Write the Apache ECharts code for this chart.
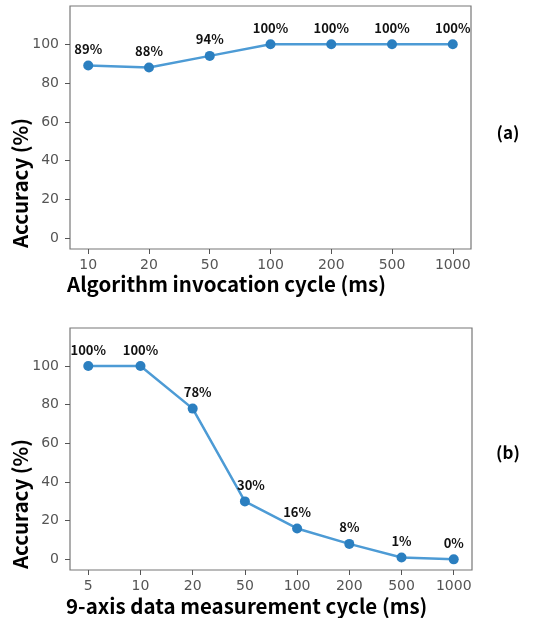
<!DOCTYPE html>
<html><head><meta charset="utf-8">
<script src="https://cdn.jsdelivr.net/npm/echarts@6/dist/echarts.min.js"></script>
<style>html,body{margin:0;padding:0;background:#fff}#c{width:540px;height:618px}</style>
</head><body><div id="c"></div>
<script>
const catsA = ['10','20','50','100','200','500','1000'];
const valsA = [89, 88, 94, 100, 100, 100, 100];
const catsB = ['5','10','20','50','100','200','500','1000'];
const valsB = [100, 100, 78, 30, 16, 8, 1, 0];
const yTicks = [0, 20, 40, 60, 80, 100];
const titleA = 'Algorithm invocation cycle (ms)';
const titleB = '9-axis data measurement cycle (ms)';
const yTitle = 'Accuracy (%)';
const offB = [[0,0],[0,0],[5,0],[6,0],[0,0],[0,0],[0,0],[0,0]];

const chart = echarts.init(document.getElementById('c'), null, {renderer:'canvas'});
const tickColor = '#555';
const font = '"Noto Sans CJK KR", "Open Sans", sans-serif';
const tickFont = '"DejaVu Sans", sans-serif';

function xAxis(gi, cats){
  const n = cats.length;
  const idx = cats.map((_, i) => i);
  return {
    type:'value', gridIndex:gi, min:-0.05*(n-1), max:(n-1)*1.05,
    axisLine:{show:false, onZero:false}, splitLine:{show:false},
    axisTick:{show:true, inside:false, customValues: idx, length:5, lineStyle:{color:tickColor}},
    axisLabel:{customValues: idx, formatter: v => cats[Math.round(v)], color:'#555', fontSize:14, fontFamily:tickFont, margin:9}
  };
}
function yAxis(gi){
  return {
    type:'value', gridIndex:gi, min:-5.5, max:119.7,
    axisLine:{show:false, onZero:false}, splitLine:{show:false},
    axisTick:{show:true, inside:false, customValues: yTicks, length:5, lineStyle:{color:tickColor}},
    axisLabel:{customValues: yTicks, color:'#555', fontSize:14, fontFamily:tickFont, margin:11}
  };
}
function series(gi, vals, offs){
  return {
    type:'line', xAxisIndex:gi, yAxisIndex:gi,
    data: vals.map((v, i) => {
      const d = {value:[i, v]};
      if (offs && (offs[i][0] || offs[i][1])) d.label = {offset:offs[i]};
      return d;
    }),
    symbol:'circle', symbolSize:10,
    itemStyle:{color:'#2b7fc0'},
    lineStyle:{color:'#4d9bd5', width:2.5},
    label:{show:true, position:'top', distance:5, formatter: p => p.value[1] + '%', color:'#111', fontSize:13, fontFamily:font, fontWeight:'bold'},
    animation:false, z:3
  };
}
chart.setOption({
  animation:false,
  grid:[
    {left:70, top:6, width:401, height:243, show:true, borderColor:'#777', borderWidth:1.2, backgroundColor:'transparent'},
    {left:70, top:328, width:402, height:242, show:true, borderColor:'#777', borderWidth:1.2, backgroundColor:'transparent'}
  ],
  xAxis:[xAxis(0, catsA), xAxis(1, catsB)],
  yAxis:[yAxis(0), yAxis(1)],
  series:[series(0, valsA, null), series(1, valsB, offB)],
  graphic:[
    {type:'text', left:67, top:274, style:{text:titleA, font:'bold 20.5px '+font, fill:'#000'}},
    {type:'text', left:66, top:596, style:{text:titleB, font:'bold 20.5px '+font, fill:'#000'}},
    {type:'text', x:20, y:183, rotation:Math.PI/2, style:{text:yTitle, font:'bold 20.5px '+font, fill:'#000', align:'center', verticalAlign:'middle'}},
    {type:'text', x:20, y:504, rotation:Math.PI/2, style:{text:yTitle, font:'bold 20.5px '+font, fill:'#000', align:'center', verticalAlign:'middle'}},
    {type:'text', x:508, y:133, style:{text:'(a)', font:'bold 17px '+font, fill:'#000', align:'center', verticalAlign:'middle'}},
    {type:'text', x:508, y:453, style:{text:'(b)', font:'bold 17px '+font, fill:'#000', align:'center', verticalAlign:'middle'}}
  ]
});
</script></body></html>
